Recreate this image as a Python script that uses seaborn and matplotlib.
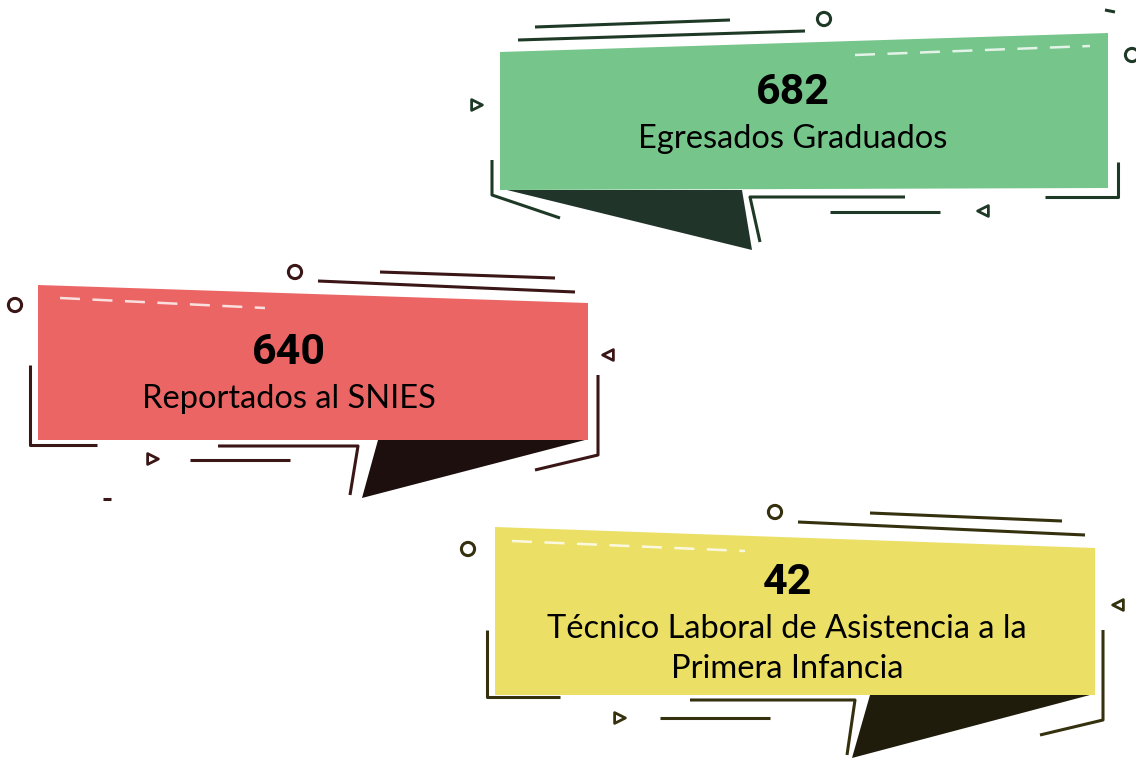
import seaborn as sns
import matplotlib.pyplot as plt
from matplotlib.patches import Polygon

# data
values = [682, 640, 42]
labels = ["Egresados Graduados", "Reportados al SNIES",
          "Técnico Laboral de Asistencia a la\nPrimera Infancia"]
fills = ["#76c58a", "#eb6565", "#ebe065"]
darks = ["#21342a", "#1e0f0f", "#1f1c0c"]
strokes = ["#1e3a26", "#3b1616", "#35310f"]

sns.set_theme(style="white")
plt.rcParams['font.family'] = ['Lato', 'DejaVu Sans']

fig = plt.figure(figsize=(11.36, 7.6), dpi=100)
ax = fig.add_axes([0, 0, 1, 1])
ax.set_xlim(0, 1136)
ax.set_ylim(760, 0)
ax.axis('off')

# layout of each card (pixel space)
cards = [
    dict(body=[(500, 52), (1108, 33), (1108, 188), (500, 190)],
         tail=[(507, 190), (742, 190), (752, 250)],
         text=(793, 93), label_y=139,
         lines=[[(535, 27), (730, 20)], [(518, 40), (805, 31)],
                [(492, 160), (492, 195), (560, 218)],
                [(905, 197), (750, 197), (760, 242)],
                [(830, 212), (940, 212)],
                [(1045, 197), (1118, 197), (1118, 162)],
                [(1105, 10), (1115, 12)]],
         dash=[(855, 55), (1090, 46)],
         circles=[(824, 19), (1132, 55)],
         tris=[(477, 105, 1), (983, 211, -1)]),
    dict(body=[(38, 285), (588, 303), (588, 440), (38, 440)],
         tail=[(378, 440), (585, 440), (362, 498)],
         text=(289, 352), label_y=399,
         lines=[[(380, 272), (555, 278)], [(318, 281), (575, 292)],
                [(30, 365), (30, 445), (97, 445)],
                [(218, 446), (358, 446), (350, 495)],
                [(190, 460), (290, 460)],
                [(598, 375), (598, 455), (535, 470)],
                [(103, 499), (111, 499)]],
         dash=[(60, 298), (265, 308)],
         circles=[(295, 272), (15, 305)],
         tris=[(153, 459, 1), (608, 355, -1)]),
    dict(body=[(495, 527), (1095, 548), (1095, 695), (495, 695)],
         tail=[(870, 695), (1090, 695), (852, 758)],
         text=(787, 582), label_y=649,
         lines=[[(870, 513), (1062, 521)], [(798, 522), (1085, 535)],
                [(487, 630), (487, 697), (560, 697)],
                [(690, 700), (855, 700), (847, 755)],
                [(660, 718), (770, 718)],
                [(1103, 630), (1103, 720), (1040, 735)]],
         dash=[(512, 541), (745, 551)],
         circles=[(775, 512), (468, 549)],
         tris=[(620, 718, 1), (1118, 605, -1)]),
]

for card, val, lab, fc, dk, sc in zip(cards, values, labels, fills, darks, strokes):
    ax.add_patch(Polygon(card['body'], closed=True, fc=fc, ec='none'))
    ax.add_patch(Polygon(card['tail'], closed=True, fc=dk, ec='none'))
    for ln in card['lines']:
        xs, ys = zip(*ln)
        ax.plot(xs, ys, color=sc, lw=2.2, solid_capstyle='butt')
    xs, ys = zip(*card['dash'])
    ax.plot(xs, ys, color='white', lw=1.8, dashes=(8, 5), alpha=0.8)
    cx, cy = zip(*card['circles'])
    sns.scatterplot(x=list(cx), y=list(cy), ax=ax, s=90, marker='o',
                    facecolors='none', edgecolor=sc, linewidth=2.2, legend=False)
    for tx, ty, d in card['tris']:
        ax.scatter([tx], [ty], s=60, marker='>' if d > 0 else '<',
                   facecolors='none', edgecolors=sc, linewidths=2)
    ax.text(card['text'][0], card['text'][1], str(val), ha='center', va='center',
            fontsize=31, fontweight='bold', color='black',
            family=['Roboto', 'DejaVu Sans'])
    ax.text(card['text'][0], card['label_y'], lab, ha='center', va='center',
            fontsize=23.5, fontweight='normal', color='black', linespacing=1.4)

fig.savefig('out.png', dpi=100)
